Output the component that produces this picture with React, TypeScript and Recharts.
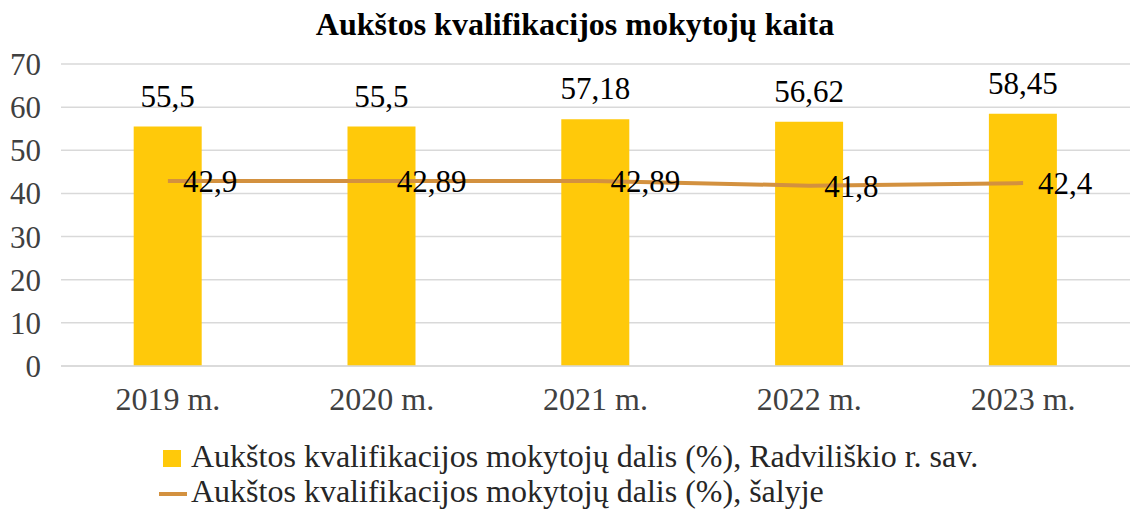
import React from "react";
import {
  ComposedChart,
  Bar,
  Line,
  XAxis,
  YAxis,
  CartesianGrid,
  LabelList,
} from "recharts";

const years = ["2019 m.", "2020 m.", "2021 m.", "2022 m.", "2023 m."];
const radviliskis = [55.5, 55.5, 57.18, 56.62, 58.45];
const country = [42.9, 42.89, 42.89, 41.8, 42.4];
const yTicks = [0, 10, 20, 30, 40, 50, 60, 70];

const barName = "Aukštos kvalifikacijos mokytojų dalis (%), Radviliškio r. sav.";
const lineName = "Aukštos kvalifikacijos mokytojų dalis (%), šalyje";

const data = years.map((year, i) => ({
  year,
  radviliskis: radviliskis[i],
  country: country[i],
}));

const FONT = "Liberation Serif, serif";
const BAR_COLOR = "#FFC90A";
const LINE_COLOR = "#D3913F";

const fmt = (v: number) => String(v).replace(".", ",");

const LineLabel = (props: any) => {
  const { x, y, value } = props;
  return (
    <text x={x + 15} y={y + 11} fontSize={31} fill="#000" fontFamily={FONT}>
      {fmt(value)}
    </text>
  );
};

const BarLabel = (props: any) => {
  const { x, y, width, value } = props;
  return (
    <text
      x={x + width / 2}
      y={y - 20}
      fontSize={31}
      fill="#000"
      textAnchor="middle"
      fontFamily={FONT}
    >
      {fmt(value)}
    </text>
  );
};

export default function App() {
  return (
    <div
      style={{
        position: "absolute",
        left: 0,
        top: 0,
        width: 1130,
        height: 511,
        overflow: "hidden",
        background: "#fff",
        fontFamily: FONT,
      }}
    >
      <div
        style={{
          position: "absolute",
          left: 10,
          top: 8,
          width: 1130,
          textAlign: "center",
          fontWeight: "bold",
          fontSize: 32,
          lineHeight: "32px",
          color: "#000",
          whiteSpace: "nowrap",
        }}
      >
        Aukštos kvalifikacijos mokytojų kaita
      </div>

      <ComposedChart
        width={1130}
        height={511}
        data={data}
        margin={{ top: 64, right: 0, left: 0, bottom: 95 }}
        barCategoryGap="34%"
      >
        <CartesianGrid vertical={false} stroke="#d9d9d9" strokeWidth={1.5} />
        <XAxis
          dataKey="year"
          height={50}
          axisLine={{ stroke: "#d9d9d9", strokeWidth: 1.5 }}
          tickLine={false}
          tick={{ fontSize: 32, fill: "#404040", fontFamily: FONT }}
          tickMargin={15}
        />
        <YAxis
          width={61}
          domain={[0, 70]}
          ticks={yTicks}
          axisLine={false}
          tickLine={false}
          tick={{ fontSize: 31, fill: "#404040", fontFamily: FONT }}
          tickMargin={14}
        />
        <Bar
          dataKey="radviliskis"
          name={barName}
          fill={BAR_COLOR}
          isAnimationActive={false}
        >
          <LabelList dataKey="radviliskis" content={<BarLabel />} />
        </Bar>
        <Line
          dataKey="country"
          name={lineName}
          stroke={LINE_COLOR}
          strokeWidth={4}
          dot={false}
          type="linear"
          isAnimationActive={false}
        >
          <LabelList dataKey="country" content={<LineLabel />} />
        </Line>
      </ComposedChart>

      <div
        style={{
          position: "absolute",
          left: 159,
          top: 439,
          fontSize: 32,
          color: "#262626",
          lineHeight: "35px",
          whiteSpace: "nowrap",
        }}
      >
        <div style={{ display: "flex", alignItems: "center" }}>
          <span
            style={{
              display: "inline-block",
              width: 18,
              height: 17,
              marginLeft: 4,
              marginRight: 10,
              marginTop: 4,
              background: BAR_COLOR,
            }}
          />
          {barName}
        </div>
        <div style={{ display: "flex", alignItems: "center" }}>
          <span
            style={{
              display: "inline-block",
              width: 28,
              height: 4,
              marginRight: 4,
              marginTop: 4,
              background: LINE_COLOR,
            }}
          />
          {lineName}
        </div>
      </div>
    </div>
  );
}
